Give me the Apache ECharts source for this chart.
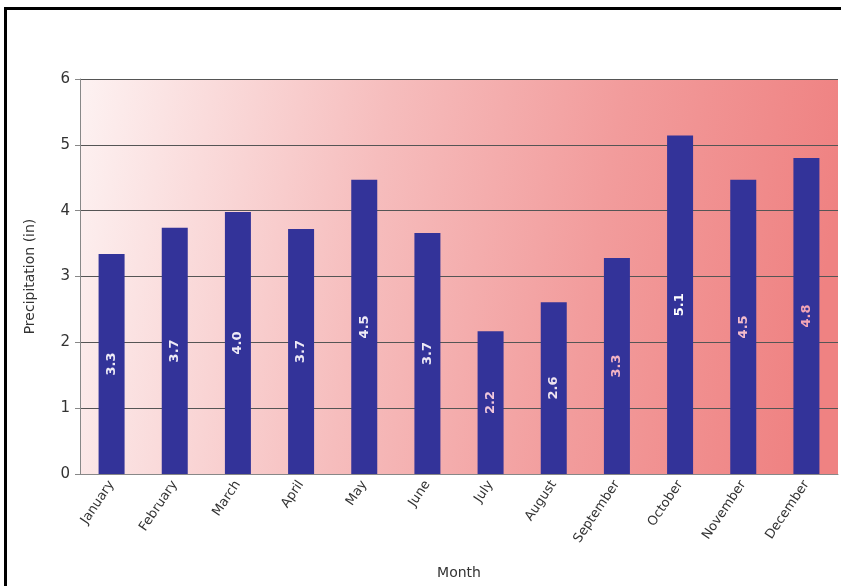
<!DOCTYPE html>
<html>
<head>
<meta charset="utf-8">
<script src="https://cdn.jsdelivr.net/npm/echarts@6/dist/echarts.min.js"></script>
<style>
  body { margin: 0; background: #fff; }
  #frame { position: absolute; left: 4px; top: 7px; width: 900px; height: 600px; border: 3px solid #000; box-sizing: border-box; }
  #chart { position: absolute; left: 0; top: 0; width: 841px; height: 586px; }
</style>
</head>
<body>
<div id="frame"></div>
<div id="chart"></div>
<script>
const months = ["January", "February", "March", "April", "May", "June",
  "July", "August", "September", "October", "November", "December"];
const precip = [3.34, 3.74, 3.98, 3.72, 4.47, 3.66, 2.17, 2.61, 3.28, 5.14, 4.47, 4.8];
const labelColors = ["#eeeaf6", "#eeeaf6", "#eeeaf6", "#eeeaf6", "#eeeaf6", "#eeeaf6",
  "#f0c8dc", "#eee4f0", "#f4b4c4", "#ffffff", "#f4bccb", "#f4a6b6"];

const myChart = echarts.init(document.getElementById("chart"));
const font = "DejaVu Sans, Verdana, sans-serif";

let option = {
  animation: false,
  grid: {
    left: 80,
    right: 3,
    top: 79,
    bottom: 112,
    show: true,
    borderWidth: 0,
    backgroundColor: new echarts.graphic.LinearGradient(0, 0, 1, 0.3, [
      { offset: 0, color: "#fdf2f2" },
      { offset: 0.4, color: "#f6bdbd" },
      { offset: 0.7, color: "#f29c9c" },
      { offset: 1, color: "#ef8282" },
    ]),
  },
  xAxis: {
    type: "category",
    data: months,
    name: "Month",
    nameLocation: "middle",
    nameGap: 92,
    nameTextStyle: { fontFamily: font, fontSize: 14, color: "#333" },
    axisLine: { lineStyle: { color: "#888", width: 1 } },
    axisTick: { show: false },
    axisLabel: {
      rotate: 56,
      fontFamily: font,
      fontSize: 13,
      color: "#333",
      margin: 8,
    },
  },
  yAxis: {
    type: "value",
    min: 0,
    max: 6,
    interval: 1,
    name: "Precipitation (in)",
    nameLocation: "middle",
    nameGap: 43,
    nameTextStyle: { fontFamily: font, fontSize: 14, color: "#333" },
    axisLine: { show: true, lineStyle: { color: "#888" } },
    axisTick: { show: true, length: 5, lineStyle: { color: "#888" } },
    axisLabel: { fontFamily: font, fontSize: 15, color: "#333", margin: 10 },
    splitLine: { show: true, lineStyle: { color: "#555", width: 1 } },
  },
  series: [
    {
      type: "bar",
      barWidth: 26,
      itemStyle: { color: "#333399" },
      data: precip.map((v, i) => ({
        value: v,
        label: { color: labelColors[i] },
      })),
      label: {
        show: true,
        position: "inside",
        rotate: 90,
        fontFamily: font,
        fontSize: 13,
        fontWeight: "bold",
        formatter: (p) => p.value.toFixed(1),
      },
    },
  ],
};
myChart.setOption(option);
</script>
</body>
</html>
